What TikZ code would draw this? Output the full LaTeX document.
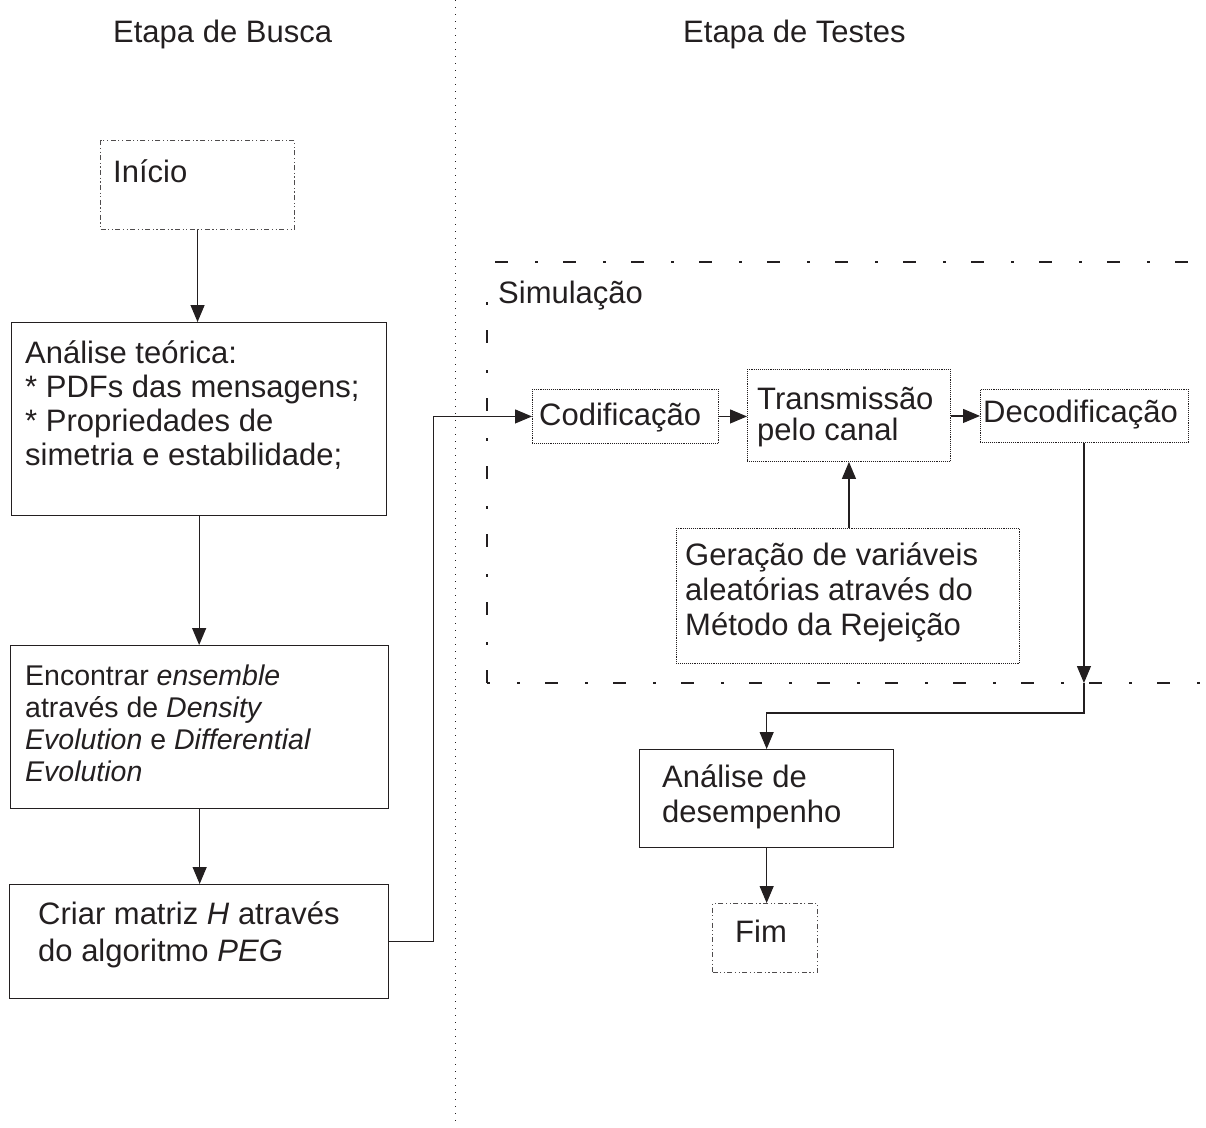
\documentclass[tikz,border=0pt]{standalone}
\usepackage{fontspec}
\setmainfont{Liberation Sans}
\usetikzlibrary{arrows.meta,calc}
\definecolor{ink}{HTML}{231F20}
\newcommand{\txt}[1]{\fontsize{#1}{#1}\selectfont}
% stacked lines with a fixed baseline distance; the box's baseline is that of the first line
\newcommand{\linestack}[2]{\vtop{\baselineskip=#1pt\lineskiplimit=-20pt #2}}
\tikzset{
  solidbox/.style={draw=ink, line width=1.3pt, anchor=north west, inner sep=0pt},
  dotbox/.style={draw=ink, line width=0.9pt, densely dotted, anchor=north west, inner sep=0pt},
  termbox/.style={draw=ink!80, line width=1.1pt, dash pattern={on 5pt off 2.5pt on 1.2pt off 2.5pt on 1.2pt off 2.5pt}, anchor=north west, inner sep=0pt},
  label/.style={anchor=base west, inner sep=0pt, text=ink, font=\txt{31}},
  flow/.style={draw=ink, line width=1.2pt, -{Triangle[length=17pt,width=14pt]}},
  frame/.style={draw=ink, line width=2.8pt, dash pattern={on 13pt off 27pt on 2.5pt off 25.5pt}},
  divider/.style={draw=ink, line width=1pt, dash pattern={on 1pt off 6pt}}
}
\begin{document}
\begin{tikzpicture}[x=1pt,y=-1pt]
\useasboundingbox (0,0) rectangle (1206,1127);

% column titles and separator
\node[label] (t1) at (113,42) {Etapa de Busca};
\node[label] (t2) at (683,42) {Etapa de Testes};
\draw[divider] (455,0) -- (455,1127);

% simulation frame
\draw[frame] (495,262) -- (1210,262);
\draw[frame, dash phase=20pt] (487,282) -- (487,683);
\draw[frame, dash phase=10pt] (487,683) -- (1210,683);
\node[label] (sim) at (498,303) {Simulação};

% search stage boxes
\node[termbox, minimum width=194pt, minimum height=89pt] (inicio) at (100,140) {};
\node[label] (inicioT) at (113,182) {Início};

\node[solidbox, minimum width=375pt, minimum height=193pt] (analise) at (11,322) {};
\node[label] (analiseT) at (25,363)
  {\linestack{34}{\hbox{Análise teórica:}\hbox{* PDFs das mensagens;}\hbox{* Propriedades de}\hbox{simetria e estabilidade;}}};

\node[solidbox, minimum width=378pt, minimum height=163pt] (ensemble) at (10,645) {};
\node[label, font=\txt{28.5}] (ensembleT) at (25,685)
  {\linestack{32}{\hbox{Encontrar \textit{ensemble}}\hbox{através de \textit{Density}}\hbox{\textit{Evolution} e \textit{Differential}}\hbox{\textit{Evolution}}}};

\node[solidbox, minimum width=379pt, minimum height=114pt] (criar) at (9,884) {};
\node[label] (criarT) at (38,924)
  {\linestack{37}{\hbox{Criar matriz \textit{H} através}\hbox{do algoritmo \textit{PEG}}}};

% test stage boxes
\node[dotbox, minimum width=186pt, minimum height=54pt] (codif) at (532,389) {};
\node[label] (codifT) at (539,425) {Codificação};

\node[dotbox, minimum width=203pt, minimum height=92pt] (trans) at (747,369) {};
\node[label] (transT) at (757,409)
  {\linestack{31}{\hbox{Transmissão}\hbox{pelo canal}}};

\node[dotbox, minimum width=208pt, minimum height=53pt] (decod) at (980,389) {};
\node[label] (decodT) at (983,422) {Decodificação};

\node[dotbox, minimum width=343pt, minimum height=135pt] (gera) at (676,528) {};
\node[label] (geraT) at (685,565)
  {\linestack{35}{\hbox{Geração de variáveis}\hbox{aleatórias através do}\hbox{Método da Rejeição}}};

\node[solidbox, minimum width=254pt, minimum height=98pt] (desemp) at (639,749) {};
\node[label] (desempT) at (662,787)
  {\linestack{35}{\hbox{Análise de}\hbox{desempenho}}};

\node[termbox, minimum width=105pt, minimum height=69pt] (fim) at (712,903) {};
\node[label] (fimT) at (735,942) {Fim};

% connectors
\draw[flow] (inicio.south) -- (inicio.south |- analise.north);
\draw[flow] (analise.south) -- (analise.south |- ensemble.north);
\draw[flow] (ensemble.south) -- (ensemble.south |- criar.north);
\draw[flow] (criar.east) -- ++(44,0) |- (codif.west);
\draw[flow] (codif.east) -- (codif.east -| trans.west);
\draw[flow] (trans.east |- decod.west) -- (decod.west);
\draw[flow] (gera.north -| trans.south) -- (trans.south);
\coordinate (cross) at ($(decod.south)+(-0.5,0)$);
\coordinate (exit) at (cross |- 0,683);
\draw[flow] (cross) -- (exit);
\draw[flow] (exit) -- ++(0,30) -| (desemp.north);
\draw[flow] (desemp.south) -- (desemp.south |- fim.north);
\end{tikzpicture}
\end{document}
